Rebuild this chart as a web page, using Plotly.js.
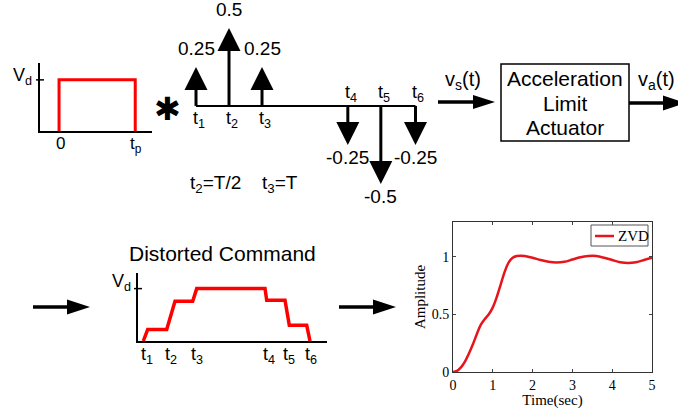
<!DOCTYPE html>
<html>
<head>
<meta charset="utf-8">
<script src="https://cdn.plot.ly/plotly-3.0.1.min.js"></script>
<style>html,body{margin:0;padding:0;background:#fff;}#chart{width:678px;height:409px;}</style>
</head>
<body>
<div id="chart"></div>
<script>
// ---------- data ----------
// ZVD response (bottom-right plot)
const zvdTime = [0, 0.1, 0.2, 0.3, 0.4, 0.5, 0.6, 0.7, 0.8, 0.9, 1.0, 1.1, 1.2, 1.3, 1.4, 1.5, 1.6, 1.7, 1.8, 2.0, 2.2, 2.4, 2.6, 2.8, 3.0, 3.2, 3.4, 3.6, 3.8, 4.0, 4.2, 4.4, 4.6, 4.8, 5.0];
const zvdAmp  = [0, 0.01, 0.04, 0.09, 0.16, 0.24, 0.33, 0.41, 0.46, 0.50, 0.56, 0.65, 0.76, 0.87, 0.95, 0.99, 1.005, 1.008, 1.005, 0.99, 0.97, 0.955, 0.948, 0.955, 0.975, 0.995, 1.005, 1.005, 0.99, 0.97, 0.952, 0.945, 0.952, 0.97, 0.99];
const zvdXTicks = [0, 1, 2, 3, 4, 5];
const zvdYTicks = [0, 0.5, 1];

// rectangular pulse command
const pulseT = [0, 0, 1, 1];          // 0 .. tp
const pulseV = [0, 1, 1, 0];          // Vd = 1
const pulseTickT = [0, 1];
const pulseTickText = ['0', 't<sub>p</sub>'];

// impulse sequence
const impT = [0, 1, 2, 4.6, 5.6, 6.65];
const impA = [0.25, 0.5, 0.25, -0.25, -0.5, -0.25];
const impLabels = ['t<sub>1</sub>', 't<sub>2</sub>', 't<sub>3</sub>', 't<sub>4</sub>', 't<sub>5</sub>', 't<sub>6</sub>'];

// distorted command
const distT = [5.3, 9.7, 28.7, 37, 54.7, 58.7, 127, 128.7, 147, 151.3, 168.7, 172];
const distV = [0, 0.22, 0.22, 0.76, 0.76, 1, 1, 0.78, 0.78, 0.3, 0.3, 0];
const distStepIdx = [0, 2, 4, 6, 8, 10];
const distLabels = impLabels;

// ---------- helpers ----------
const W = 678, H = 409;
const X = p => p / W;
const Y = p => 1 - p / H;
const SANS = 'Liberation Sans, Arial, sans-serif';
const SERIF = 'Liberation Serif, Times New Roman, serif';

function flowArrow(x0, x1, y, L, h) {
  return [
    {type: 'line', xref: 'paper', yref: 'paper', x0: X(x0), x1: X(x1 - L + 2), y0: Y(y), y1: Y(y),
     line: {color: 'black', width: 3.5}},
    {type: 'path', xref: 'paper', yref: 'paper',
     path: `M${X(x1)},${Y(y)}L${X(x1 - L)},${Y(y - h)}L${X(x1 - L)},${Y(y + h)}Z`,
     fillcolor: 'black', line: {width: 0}}
  ];
}

// ---------- traces ----------
const traces = [];
traces.push({x: zvdTime, y: zvdAmp, xaxis: 'x', yaxis: 'y', mode: 'lines', name: 'ZVD',
  line: {color: '#e8141b', width: 2.5, shape: 'spline'}, showlegend: false, hoverinfo: 'skip'});

traces.push({x: pulseT, y: pulseV, xaxis: 'x2', yaxis: 'y2', mode: 'lines', cliponaxis: false,
  line: {color: '#ff0000', width: 3}, showlegend: false, hoverinfo: 'skip'});

traces.push({x: [impT[0], impT[impT.length - 1]], y: [0, 0], xaxis: 'x3', yaxis: 'y3', mode: 'lines',
  cliponaxis: false, line: {color: 'black', width: 2}, showlegend: false, hoverinfo: 'skip'});
const sx = [], sy = [];
impT.forEach((t, i) => { const a = impA[i]; sx.push(t, t, null); sy.push(0, a - Math.sign(a) * 0.06, null); });
traces.push({x: sx, y: sy, xaxis: 'x3', yaxis: 'y3', mode: 'lines', cliponaxis: false,
  line: {color: 'black', width: 3}, showlegend: false, hoverinfo: 'skip'});
traces.push({x: impT, y: impA, xaxis: 'x3', yaxis: 'y3', mode: 'markers', cliponaxis: false,
  marker: {symbol: impA.map(a => a > 0 ? 'arrow-up' : 'arrow-down'), size: 23, color: 'black', line: {width: 0}},
  showlegend: false, hoverinfo: 'skip'});

traces.push({x: distT, y: distV, xaxis: 'x4', yaxis: 'y4', mode: 'lines', cliponaxis: false,
  line: {color: '#ff0000', width: 3.5}, showlegend: false, hoverinfo: 'skip'});

// ---------- annotations ----------
const ann = [];
const txt = (text, x, y, size, extra) => Object.assign({text, x, y, xref: 'paper', yref: 'paper', showarrow: false,
  font: {family: SANS, size, color: 'black'}, xanchor: 'center', yanchor: 'middle'}, extra || {});

// pulse labels
pulseTickT.forEach((t, i) => ann.push({text: pulseTickText[i], x: t, y: 0, xref: 'x2', yref: 'y2', showarrow: false,
  font: {family: SANS, size: 17, color: 'black'}, yanchor: 'middle', yshift: i === 0 ? -12 : -14, xshift: 1}));
ann.push({text: 'V<sub>d</sub>', x: X(34), y: pulseV[1], xref: 'paper', yref: 'y2', showarrow: false,
  font: {family: SANS, size: 18, color: 'black'}, xanchor: 'right', yanchor: 'middle', yshift: 3});
ann.push(txt('✱', X(167), Y(109), 32, {font: {family: 'DejaVu Sans', size: 32, color: 'black'}}));

// impulse labels
impT.forEach((t, i) => {
  const a = impA[i];
  ann.push({text: String(a), x: t, y: a, xref: 'x3', yref: 'y3', showarrow: false,
    font: {family: SANS, size: 19, color: 'black'}, yanchor: 'middle', yshift: a > 0 ? 18 : -13});
  ann.push({text: impLabels[i], x: t, y: 0, xref: 'x3', yref: 'y3', showarrow: false,
    font: {family: SANS, size: 18, color: 'black'}, yanchor: 'middle', xshift: 3, yshift: a > 0 ? -14 : 12});
});
ann.push(txt('t<sub>2</sub>=T/2', X(188), Y(184), 19, {xanchor: 'left'}));
ann.push(txt('t<sub>3</sub>=T', X(260), Y(184), 19, {xanchor: 'left'}));

// block diagram
ann.push(txt('v<sub>s</sub>(t)', X(463), Y(80), 20));
ann.push(txt('v<sub>a</sub>(t)', X(656), Y(80), 20));
ann.push(txt('Acceleration', X(565), Y(78), 21));
ann.push(txt('Limit', X(565), Y(103), 21));
ann.push(txt('Actuator', X(565), Y(127), 21));

// distorted command
ann.push(txt('Distorted Command', X(222), Y(253), 21));
ann.push({text: 'V<sub>d</sub>', x: X(133), y: 1, xref: 'paper', yref: 'y4', showarrow: false,
  font: {family: SANS, size: 18, color: 'black'}, xanchor: 'right', yanchor: 'middle', yshift: 6});
distStepIdx.forEach((k, i) => ann.push({text: distLabels[i], x: distT[k], y: 0, xref: 'x4', yref: 'y4', showarrow: false,
  font: {family: SANS, size: 18, color: 'black'}, yanchor: 'middle', xshift: 4, yshift: -14}));

// ZVD legend text
ann.push({text: 'ZVD', x: X(616), y: Y(236), xref: 'paper', yref: 'paper', showarrow: false,
  font: {family: SERIF, size: 15, color: 'black'}, xanchor: 'left', yanchor: 'middle'});

// ---------- shapes ----------
const shapes = [];
shapes.push({type: 'line', xref: 'paper', yref: 'y2', x0: X(36), x1: X(44), y0: 1, y1: 1, line: {color: 'black', width: 1.5}});
shapes.push({type: 'line', xref: 'paper', yref: 'y4', x0: X(134), x1: X(142), y0: 1, y1: 1, line: {color: 'black', width: 1.5}});
shapes.push({type: 'rect', xref: 'paper', yref: 'paper', x0: X(501), x1: X(629), y0: Y(141), y1: Y(64), line: {color: 'black', width: 1.5}});
shapes.push(...flowArrow(438, 495, 102, 22, 7));
shapes.push(...flowArrow(629, 686, 103, 23, 7.5));
shapes.push(...flowArrow(33, 90, 307, 23, 7.5));
shapes.push(...flowArrow(339, 396, 307, 23, 7.5));
// ZVD legend box and sample
shapes.push({type: 'rect', xref: 'paper', yref: 'paper', x0: X(591), x1: X(648), y0: Y(246), y1: Y(225),
  line: {color: '#555', width: 1}, fillcolor: 'white'});
shapes.push({type: 'line', xref: 'paper', yref: 'paper', x0: X(595), x1: X(614), y0: Y(236), y1: Y(236),
  line: {color: '#e8141b', width: 2.5}});

const hidden = {visible: true, showgrid: false, zeroline: false, showticklabels: false, ticks: ''};

const layout = {
  width: W, height: H, margin: {l: 0, r: 0, t: 0, b: 0},
  paper_bgcolor: 'white', plot_bgcolor: 'rgba(0,0,0,0)', showlegend: false,
  xaxis: {domain: [X(453), X(652)], range: [0, 5], tickvals: zvdXTicks, ticks: 'inside', ticklen: 3,
    showline: true, linecolor: '#333', linewidth: 1, mirror: 'ticks', showgrid: false, zeroline: false,
    tickfont: {family: SERIF, size: 14, color: 'black'},
    title: {text: 'Time(sec)', font: {family: SERIF, size: 15, color: 'black'}, standoff: 0}},
  yaxis: {domain: [Y(372), Y(222)], range: [0, 1.3], tickvals: zvdYTicks, ticks: 'inside', ticklen: 3,
    showline: true, linecolor: '#333', linewidth: 1, mirror: 'ticks', showgrid: false, zeroline: false,
    tickfont: {family: SERIF, size: 14, color: 'black'},
    title: {text: 'Amplitude', font: {family: SERIF, size: 15, color: 'black'}, standoff: 2}},
  xaxis2: Object.assign({}, hidden, {domain: [X(40), X(152)], range: [-0.25, 1.22], showline: true, linecolor: 'black', linewidth: 2, anchor: 'y2'}),
  yaxis2: Object.assign({}, hidden, {domain: [Y(131), Y(63)], range: [0, 1.33], showline: true, linecolor: 'black', linewidth: 2, anchor: 'x2'}),
  xaxis3: Object.assign({}, hidden, {visible: false, domain: [X(180), X(430)], range: [-0.485, 7.09], anchor: 'y3'}),
  yaxis3: Object.assign({}, hidden, {visible: false, domain: [Y(200), Y(0)], range: [-0.603, 0.679], anchor: 'x3'}),
  xaxis4: Object.assign({}, hidden, {domain: [X(138), X(327)], range: [0, 189], showline: true, linecolor: 'black', linewidth: 2, anchor: 'y4'}),
  yaxis4: Object.assign({}, hidden, {domain: [Y(341), Y(273)], range: [0, 1.298], showline: true, linecolor: 'black', linewidth: 2, anchor: 'x4'}),
  annotations: ann,
  shapes: shapes
};

Plotly.newPlot('chart', traces, layout, {staticPlot: true, displayModeBar: false});
</script>
</body>
</html>
